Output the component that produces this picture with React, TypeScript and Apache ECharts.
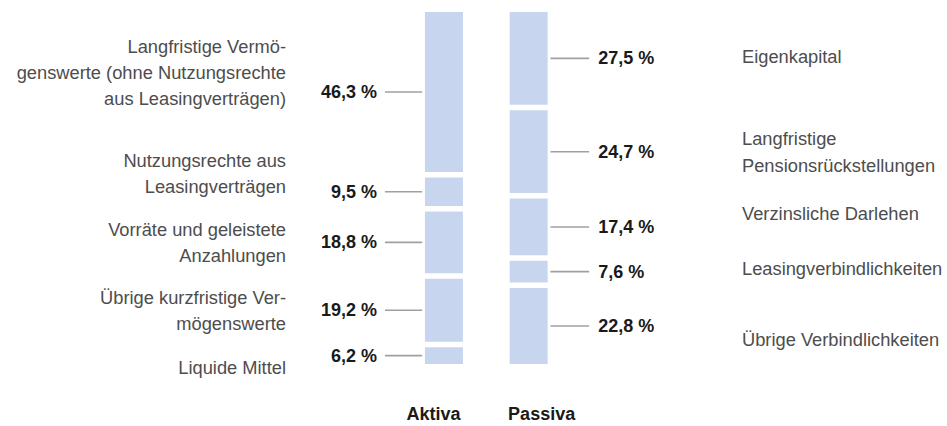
import React, { useEffect, useRef } from "react";
import * as echarts from "echarts";

// Categories of the two balance-sheet columns
const columns = ["Aktiva", "Passiva"];

// Aktiva segments, listed top to bottom
const aktivaNames = [
  "Langfristige Vermö-\ngenswerte (ohne Nutzungsrechte\naus Leasingverträgen)",
  "Nutzungsrechte aus\nLeasingverträgen",
  "Vorräte und geleistete\nAnzahlungen",
  "Übrige kurzfristige Ver-\nmögenswerte",
  "Liquide Mittel",
];
const aktivaValues = [46.3, 9.5, 18.8, 19.2, 6.2];

// Passiva segments, listed top to bottom
const passivaNames = [
  "Eigenkapital",
  "Langfristige\nPensionsrückstellungen",
  "Verzinsliche Darlehen",
  "Leasingverbindlichkeiten",
  "Übrige Verbindlichkeiten",
];
const passivaValues = [27.5, 24.7, 17.4, 7.6, 22.8];

const fmt = (v: number) => v.toFixed(1).replace(".", ",") + " %";

const FONT = '"Liberation Sans", Arial, Helvetica, sans-serif';

export default function App() {
  const ref = useRef<HTMLDivElement>(null);

  useEffect(() => {
    if (!ref.current) return;
    const chart = echarts.init(ref.current, undefined, { renderer: "svg" });

    const n = aktivaValues.length;
    // stacked bar series, bottom segment first
    const barSeries: any[] = [];
    for (let i = 0; i < n; i++) {
      const k = n - 1 - i;
      barSeries.push({
        type: "bar",
        name: aktivaNames[k] + " / " + passivaNames[k],
        stack: "total",
        barWidth: 43.5,
        itemStyle: { color: "#c7d6ee", borderColor: "#ffffff", borderWidth: 2.75 },
        data: [aktivaValues[k], passivaValues[k]],
        silent: true,
      });
    }

    // label data: [columnIndex, start, end, text]
    const labelData: any[] = [];
    const addCol = (vals: number[], col: number) => {
      let top = 100;
      vals.forEach((v) => {
        labelData.push([col, top - v, top, fmt(v)]);
        top -= v;
      });
    };
    addCol(aktivaValues, 0);
    addCol(passivaValues, 1);

    const labelSeries = {
      type: "custom",
      coordinateSystem: "cartesian2d",
      encode: { x: 0, y: [1, 2] },
      clip: false,
      silent: true,
      data: labelData,
      renderItem: (params: any, api: any) => {
        const col = api.value(0);
        const mid = (api.value(1) + api.value(2)) / 2;
        const p = api.coord([col, mid]);
        const txt = labelData[params.dataIndex][3];
        const left = col === 0;
        const x1 = left ? p[0] - 59 : p[0] + 21.5;
        const x2 = left ? p[0] - 21 : p[0] + 60.5;
        const tx = left ? p[0] - 67 : p[0] + 69.5;
        return {
          type: "group",
          children: [
            {
              type: "line",
              shape: { x1, y1: p[1], x2, y2: p[1] },
              style: { stroke: "#a0a0a0", lineWidth: 1.6 },
            },
            {
              type: "text",
              style: {
                text: txt,
                x: tx,
                y: p[1],
                align: left ? "right" : "left",
                verticalAlign: "middle",
                fontFamily: FONT,
                fontWeight: "bold",
                fontSize: 18,
                fill: "#1a1a1a",
              },
            },
          ],
        };
      },
    };

    const leftY = [72, 173.5, 242, 310.5, 367];
    const rightY = [56, 151.5, 213, 268, 339];
    const graphics: any[] = [];
    aktivaNames.forEach((t, i) =>
      graphics.push({
        type: "text",
        x: 286,
        y: leftY[i],
        style: {
          text: t,
          align: "right",
          verticalAlign: "middle",
          lineHeight: 26,
          fontFamily: FONT,
          fontSize: 18.3,
          fill: "#4d4d4d",
        },
      })
    );
    passivaNames.forEach((t, i) =>
      graphics.push({
        type: "text",
        x: 742,
        y: rightY[i],
        style: {
          text: t,
          align: "left",
          verticalAlign: "middle",
          lineHeight: 27,
          fontFamily: FONT,
          fontSize: 18.3,
          fill: "#4d4d4d",
        },
      })
    );

    chart.setOption({
      animation: false,
      grid: { left: 401.6, right: 376, top: 9.25, bottom: 59.25 },
      xAxis: {
        type: "category",
        data: columns,
        axisLine: { show: false },
        axisTick: { show: false },
        splitLine: { show: false },
        axisLabel: {
          margin: 38,
          formatter: (v: string) => (v === "Aktiva" ? "{a|" + v + "}" : "{p|" + v + "}"),
          rich: {
            a: {
              fontFamily: FONT,
              fontWeight: "bold",
              fontSize: 18,
              color: "#1a1a1a",
              padding: [0, 21, 0, 0],
            },
            p: {
              fontFamily: FONT,
              fontWeight: "bold",
              fontSize: 18,
              color: "#1a1a1a",
              padding: [0, 0, 0, 26],
            },
          },
        },
      },
      yAxis: { type: "value", min: 0, max: 100, show: false },
      series: [...barSeries, labelSeries],
      graphic: graphics,
    });

    return () => chart.dispose();
  }, []);

  return (
    <div
      ref={ref}
      style={{ position: "absolute", left: 0, top: 0, width: 947, height: 426 }}
    />
  );
}
